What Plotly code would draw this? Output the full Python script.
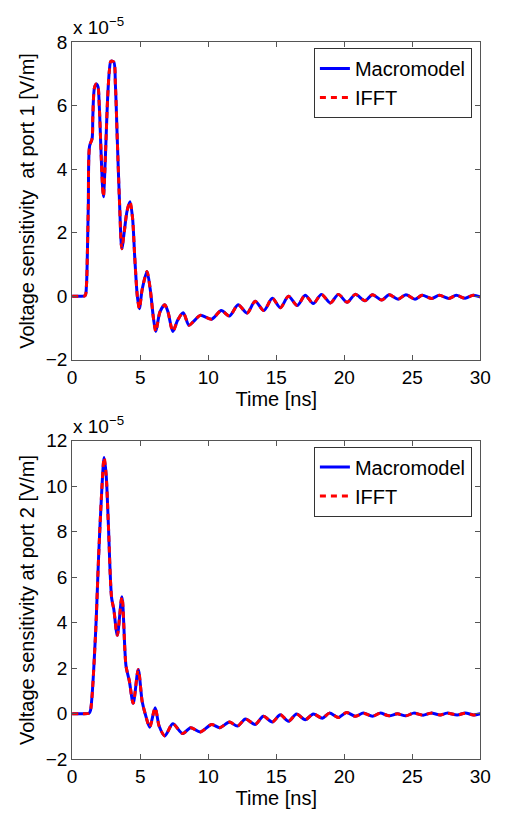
import plotly.graph_objects as go

# ---- data (values in units of 1e-5 V/m) ----
t_port1 = [0, 0.5, 0.95, 1.05, 1.12, 1.19, 1.28, 1.47, 1.52, 1.64, 1.78, 1.9, 1.99, 2.11, 2.23, 2.30,
           2.37, 2.49, 2.61, 2.73, 2.85, 3.06, 3.18, 3.32, 3.49, 3.65, 3.84, 4.03, 4.25, 4.44, 4.6,
           4.79, 4.94, 5.15, 5.5, 5.74, 5.98, 6.15, 6.45, 6.81, 7.05, 7.4, 7.76, 8.16, 8.59, 8.95,
           9.42, 10.25, 10.96, 11.56, 12.2, 12.86, 13.45, 14.09, 14.71, 15.3, 15.9, 16.54, 17.13,
           17.72, 18.32, 18.98, 19.57, 20.21, 20.81, 21.52, 22.07, 22.75, 23.3, 23.96, 24.53, 25.2,
           25.72, 26.43, 26.98, 27.69, 28.23, 28.88, 29.47, 30]
v_port1 = [0.0, 0.0, 0.02, 0.32, 1.34, 2.88, 4.72, 4.97, 5.64, 6.56, 6.68, 6.6, 6.05, 4.72, 3.49, 3.13,
           3.59, 4.92, 6.25, 7.07, 7.40, 7.38, 6.66, 4.92, 2.88, 1.5, 2.06, 2.67, 2.98, 2.47, 1.24,
           0.01, -0.39, 0.22, 0.78, 0.22, -0.70, -1.11, -0.5, -0.27, -0.5, -1.11, -0.75, -0.52, -0.91, -0.78,
           -0.6, -0.72, -0.45, -0.62, -0.27, -0.53, -0.16, -0.45, -0.06, -0.36, 0.0, -0.29, 0.03,
           -0.23, 0.06, -0.21, 0.06, -0.19, 0.06, -0.14, 0.05, -0.12, 0.05, -0.09, 0.05, -0.09,
           0.03, -0.07, 0.03, -0.07, 0.03, -0.06, 0.03, -0.02]

t_port2 = [0, 0.6, 1.24, 1.35, 1.71, 1.95, 2.19, 2.35, 2.5, 2.66, 2.9, 3.06, 3.32, 3.66, 3.96, 4.2,
           4.49, 4.86, 5.15, 5.39, 5.7, 6.1, 6.4, 6.81, 7.4, 8.12, 8.71, 9.42, 10.25, 10.85, 11.56,
           12.15, 12.74, 13.45, 14.05, 14.71, 15.3, 15.9, 16.49, 17.13, 17.72, 18.39, 18.91, 19.57,
           20.17, 20.81, 21.4, 22.07, 22.63, 23.3, 23.9, 24.53, 25.1, 25.79, 26.37, 27.05, 27.55,
           28.3, 28.9, 29.5, 30]
v_port2 = [0.0, 0.0, 0.02, 0.15, 3.38, 6.95, 9.95, 11.26, 10.5, 8.38, 5.1, 4.6, 3.45, 5.14, 2.1, 1.46,
           0.46, 1.95, 0.53, -0.04, -0.59, 0.27, -0.55, -0.97, -0.44, -0.87, -0.61, -0.8, -0.47, -0.61, -0.36,
           -0.54, -0.23, -0.47, -0.11, -0.36, -0.04, -0.33, -0.01, -0.26, -0.01, -0.19, 0.03, -0.16,
           0.06, -0.11, 0.03, -0.11, 0.03, -0.09, 0.0, -0.09, 0.03, -0.06, 0.03, -0.05, 0.03,
           -0.05, 0.03, -0.05, 0.0]

x_ticks = [0, 5, 10, 15, 20, 25, 30]
y_ticks_port1 = [-2, 0, 2, 4, 6, 8]
y_ticks_port2 = [-2, 0, 2, 4, 6, 8, 10, 12]

FONT = "Liberation Sans, Arial, Helvetica, sans-serif"
AX = "#555555"
W, H = 511, 821

fig = go.Figure()
for (t, v, xa, ya, leg) in [(t_port1, v_port1, "x", "y", "legend"),
                             (t_port2, v_port2, "x2", "y2", "legend2")]:
    fig.add_trace(go.Scatter(x=t, y=v, xaxis=xa, yaxis=ya, mode="lines", name="Macromodel",
                             line=dict(color="#0000ff", width=3, shape="spline", smoothing=0.8),
                             legend=leg))
    fig.add_trace(go.Scatter(x=t, y=v, xaxis=xa, yaxis=ya, mode="lines", name="IFFT",
                             line=dict(color="#ff0000", width=3, dash="6px,5px", shape="spline",
                                       smoothing=0.8),
                             legend=leg))

xdom = [69.3 / W, 490.7 / W]
dom1 = [1 - 359 / H, 1 - 33 / H]
dom2 = [1 - 769 / H, 1 - 442 / H]

def xax(anchor):
    return dict(domain=xdom, range=[0, 30], tickvals=x_ticks, anchor=anchor,
                showgrid=False, zeroline=False, showline=True, linecolor=AX, linewidth=1,
                mirror="ticks", ticks="inside", ticklen=5, tickcolor=AX,
                tickfont=dict(family=FONT, size=19, color="black"),
                title=dict(text="Time [ns]", font=dict(family=FONT, size=20, color="black"), standoff=1))

def yax(dom, rng, tv, title, anchor):
    return dict(domain=dom, range=rng, tickvals=tv, anchor=anchor,
                showgrid=False, zeroline=False, showline=True, linecolor=AX, linewidth=1,
                mirror="ticks", ticks="inside", ticklen=5, tickcolor=AX,
                tickfont=dict(family=FONT, size=19, color="black"),
                title=dict(text=title, font=dict(family=FONT, size=20, color="black"), standoff=5))

legend_common = dict(xanchor="right", yanchor="top", bgcolor="white", bordercolor="#333333",
                     borderwidth=1, font=dict(family=FONT, size=20, color="black"),
                     tracegroupgap=0)

fig.update_layout(
    width=W, height=H, margin=dict(l=0, r=0, t=0, b=0),
    paper_bgcolor="white", plot_bgcolor="white",
    xaxis=xax("y"), yaxis=yax(dom1, [-2, 8], y_ticks_port1, "Voltage sensitivity  at port 1 [V/m]", "x"),
    xaxis2=xax("y2"), yaxis2=yax(dom2, [-2, 12], y_ticks_port2, "Voltage sensitivity at port 2 [V/m]", "x2"),
    legend=dict(x=482 / W, y=1 - 39 / H, **legend_common),
    legend2=dict(x=482 / W, y=1 - 448 / H, **legend_common),
    annotations=[
        dict(text="x 10<sup>−5</sup>", xref="paper", yref="paper", x=68 / W, y=1 - 31 / H,
             xanchor="left", yanchor="bottom", showarrow=False,
             font=dict(family=FONT, size=19, color="black")),
        dict(text="x 10<sup>−5</sup>", xref="paper", yref="paper", x=68 / W, y=1 - 440 / H,
             xanchor="left", yanchor="bottom", showarrow=False,
             font=dict(family=FONT, size=19, color="black")),
    ],
)

fig.write_html("out.html")
